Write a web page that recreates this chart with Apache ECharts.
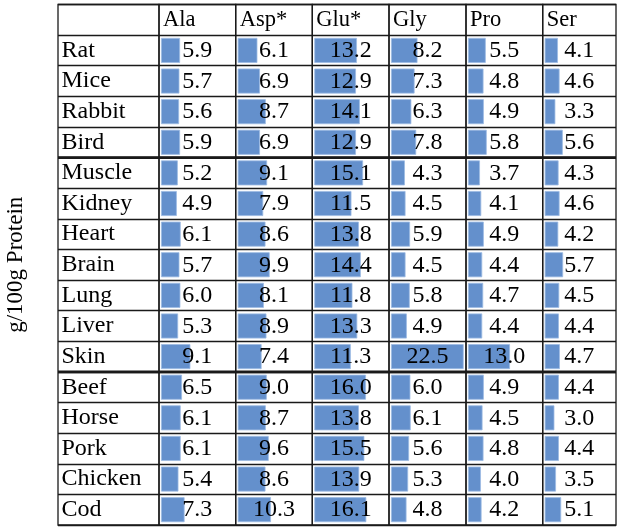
<!DOCTYPE html>
<html>
<head>
<meta charset="utf-8">
<script src="https://cdn.jsdelivr.net/npm/echarts@6/dist/echarts.min.js"></script>
<style>
    html, body { margin: 0; padding: 0; background: #fff; }
    #chart { width: 624px; height: 530px; }
</style>
</head>
<body>
<div id="chart"></div>
<script>
// 行标签 / 列标签
const rowLabels = ['Rat', 'Mice', 'Rabbit', 'Bird', 'Muscle', 'Kidney', 'Heart', 'Brain',
    'Lung', 'Liver', 'Skin', 'Beef', 'Horse', 'Pork', 'Chicken', 'Cod'];
const aminoAcids = ['Ala', 'Asp*', 'Glu*', 'Gly', 'Pro', 'Ser'];

// g/100g Protein
const ala = [5.9, 5.7, 5.6, 5.9, 5.2, 4.9, 6.1, 5.7, 6.0, 5.3, 9.1, 6.5, 6.1, 6.1, 5.4, 7.3];
const asp = [6.1, 6.9, 8.7, 6.9, 9.1, 7.9, 8.6, 9.9, 8.1, 8.9, 7.4, 9.0, 8.7, 9.6, 8.6, 10.3];
const glu = [13.2, 12.9, 14.1, 12.9, 15.1, 11.5, 13.8, 14.4, 11.8, 13.3, 11.3, 16.0, 13.8, 15.5, 13.9, 16.1];
const gly = [8.2, 7.3, 6.3, 7.8, 4.3, 4.5, 5.9, 4.5, 5.8, 4.9, 22.5, 6.0, 6.1, 5.6, 5.3, 4.8];
const pro = [5.5, 4.8, 4.9, 5.8, 3.7, 4.1, 4.9, 4.4, 4.7, 4.4, 13.0, 4.9, 4.5, 4.8, 4.0, 4.2];
const ser = [4.1, 4.6, 3.3, 5.6, 4.3, 4.6, 4.2, 5.7, 4.5, 4.4, 4.7, 4.4, 3.0, 4.4, 3.5, 5.1];
const columns = [ala, asp, glu, gly, pro, ser];

// 表格布局
const colEdges = [58, 159, 235.7, 312.3, 389, 466, 542.7, 616];
const tableTop = 4.5;
const tableHeight = 520.5;
const rowH = tableHeight / (rowLabels.length + 1);
const pxPerUnit = 3.23;
const zeroOffset = -0.62;
const font = 'Liberation Serif, Times New Roman, serif';
const lineColor = '#1a1a1a';

const grids = [];
const xAxes = [];
const yAxes = [];
const series = [];

// 第一列：行名
grids.push({
    left: colEdges[0], top: tableTop,
    width: colEdges[1] - colEdges[0], height: tableHeight,
    show: true, borderColor: lineColor, borderWidth: 1.3, backgroundColor: 'transparent'
});
xAxes.push({ gridIndex: 0, type: 'value', min: 0, max: 1, show: false });
yAxes.push({
    gridIndex: 0,
    type: 'category',
    inverse: true,
    data: [''].concat(rowLabels),
    axisLine: { show: false },
    axisTick: { show: false },
    axisLabel: {
        inside: true, align: 'left', margin: 3.5, interval: 0,
        fontFamily: font, fontSize: 24, color: '#000'
    },
    splitLine: { show: true, interval: 0, lineStyle: { color: lineColor, width: 1.3 } },
    name: 'g/100g Protein',
    nameLocation: 'middle',
    nameRotate: 90,
    nameGap: 31,
    nameTextStyle: { fontFamily: font, fontSize: 23, color: '#000' }
});

// 数据列
columns.forEach((vals, i) => {
    const g = i + 1;
    const w = colEdges[g + 1] - colEdges[g];
    grids.push({
        left: colEdges[g], top: tableTop, width: w, height: tableHeight,
        show: true, borderColor: lineColor, borderWidth: 1.3, backgroundColor: 'transparent'
    });
    xAxes.push({
        gridIndex: g, type: 'value', show: false,
        min: zeroOffset, max: zeroOffset + w / pxPerUnit
    });
    yAxes.push({
        gridIndex: g,
        type: 'category',
        inverse: true,
        data: [aminoAcids[i]].concat(rowLabels),
        axisLine: { show: false },
        axisTick: { show: false },
        axisLabel: {
            inside: true, align: 'left', margin: 4,
            interval: idx => idx === 0,
            fontFamily: font, fontSize: 22.5, color: '#000'
        },
        splitLine: { show: true, interval: 0, lineStyle: { color: lineColor, width: 1.3 } }
    });
    series.push({
        type: 'bar',
        xAxisIndex: g,
        yAxisIndex: g,
        barWidth: 25,
        data: ['-'].concat(vals),
        itemStyle: { color: '#6490cc', borderColor: '#9dbbe3', borderWidth: 0.8 },
        label: {
            show: true,
            position: [w / 2 - 2, '52%'],
            align: 'center',
            verticalAlign: 'middle',
            fontFamily: font,
            fontSize: 24,
            color: '#000',
            formatter: p => Number(p.value).toFixed(1)
        },
        silent: true,
        animation: false
    });
});

// 分组粗线（Bird/Muscle，Skin/Beef 之间）
const thickRows = [5, 12];
const graphic = thickRows.map(r => ({
    type: 'line',
    shape: { x1: colEdges[0], y1: tableTop + r * rowH, x2: colEdges[7], y2: tableTop + r * rowH },
    style: { stroke: lineColor, lineWidth: 2.6 },
    z: 100
}));

const chart = echarts.init(document.getElementById('chart'));
chart.setOption({
    animation: false,
    grid: grids,
    xAxis: xAxes,
    yAxis: yAxes,
    series: series,
    graphic: graphic
});
</script>
</body>
</html>
